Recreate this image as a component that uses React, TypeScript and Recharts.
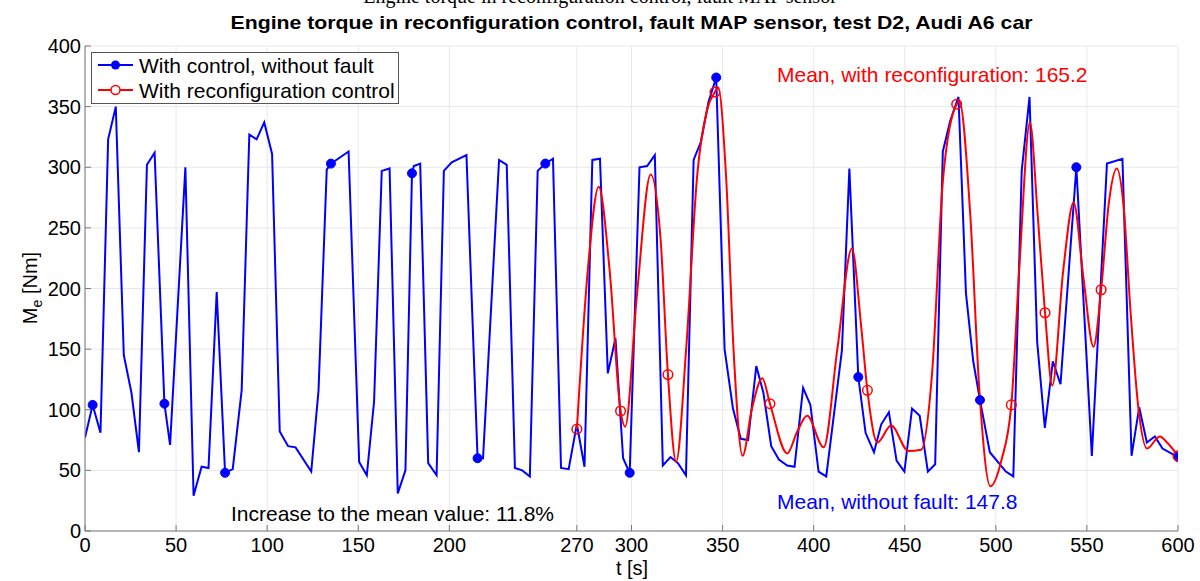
import React from "react";
import { LineChart, Line, XAxis, YAxis, CartesianGrid } from "recharts";

// axis ticks as drawn in the figure (note the 270 tick instead of 250)
const xTicks = [0, 50, 100, 150, 200, 270, 300, 350, 400, 450, 500, 550, 600];
const yTicks = [0, 50, 100, 150, 200, 250, 300, 350, 400];

// with control, without fault (blue)
const blueT = [
  0, 4.2, 8.5, 12.7, 16.9, 21.3, 25.5, 29.6, 34, 38.2, 43.6, 46.7, 55.1, 59.6, 64, 67.8, 72.3, 76.9, 81.1, 86,
  90.2, 94.2, 98.4, 102.7, 106.9, 111.5, 115.6, 124.2, 128.2, 132.7, 135, 144.7, 150.5, 154.7, 158.7, 162.9,
  167.2, 171.7, 175.9, 179.5, 180.5, 184, 188.4, 193, 197, 201.3, 209.4, 215.5, 218.5, 227.3, 231.5, 236, 240,
  244.2, 248.5, 252.7, 256.9, 261.3, 265.5, 270, 274.2, 278.5, 282.7, 287, 291.2, 295.4, 299, 304.4, 308.6,
  312.8, 317.2, 321.4, 325.5, 329.9, 334.1, 338.1, 342.3, 346.5, 351.1, 355.7, 360, 364, 368.5, 372.4, 376.7,
  380.9, 385.5, 389.5, 394.2, 398.2, 402.7, 406.9, 415.5, 419.6, 424.5, 428.5, 433.1, 437.1, 441.3, 445.5,
  449.8, 454, 458.2, 462.7, 466.7, 470.9, 474.9, 479.5, 483.6, 487.6, 491.3, 496.7, 505.5, 509.6, 514.2, 518.5,
  522.7, 526.9, 531.3, 535.5, 544.2, 552.7, 561, 569.5, 574.5, 578.7, 582.9, 587.3, 591.5, 600,
];
const blueV = [
  77, 104, 81, 323, 350, 145, 114, 65, 302, 312, 105, 71, 300, 29, 53, 52, 197, 48, 51, 116,
  327, 323, 337, 311, 82, 70, 69, 49, 116, 298, 303, 313, 57, 46, 107, 297,
  299, 31, 50, 295, 301, 303, 56, 46, 297, 304, 310, 60, 60, 306, 302, 52, 50,
  45, 297, 303, 307, 52, 51, 88, 53, 306, 307, 130, 159, 60, 48, 300, 301,
  310, 54, 61, 56, 46, 306, 321, 354, 374, 150, 101, 76, 75, 136, 114, 70,
  59, 54, 53, 118, 104, 49, 45, 149, 299, 127, 81, 65, 88, 98, 58,
  49, 101, 95, 49, 55, 313, 338, 358, 196, 140, 108, 65, 49, 45, 297, 358,
  156, 85, 140, 121, 300, 62, 303, 307, 62, 102, 73, 78, 68, 61,
];
const blueMarkT = [4.2, 43.6, 76.9, 135, 179.5, 215.5, 252.7, 299, 346.5, 424.5, 491.3, 544.2, 600];

// with reconfiguration control (red)
const redT = [
  270, 276, 282, 288, 294, 296.5, 303, 310.5, 316, 320, 324.5, 330, 336, 342, 345.8, 347.5, 352, 356, 361,
  366, 371.8, 376, 385.5, 391, 396.4, 405.5, 413, 421, 426, 429.5, 435, 442.5, 452, 459, 465, 471, 478.5, 480,
  486, 491, 497, 503, 508.5, 513, 518.7, 523, 527, 531, 537, 542.7, 548, 553.6, 557.8, 562, 566.4, 570, 574,
  578, 583, 590, 594, 600,
];
const redV = [
  84, 215, 284, 215, 99, 86, 195, 294, 240, 129, 57, 150, 292, 350, 362, 366, 290, 150, 62,
  100, 126, 105, 64, 82, 95, 69, 150, 233, 170, 116, 73, 87, 66, 67, 130, 290, 352, 354,
  260, 115, 37, 58, 104, 220, 337, 260, 180, 120, 215, 271, 210, 152, 199, 270, 299, 270, 180,
  105, 68, 78, 73, 62,
];
const redMarkT = [270, 294, 320, 345.8, 376, 429.5, 478.5, 508.5, 527, 557.8, 600];

const blueData = blueT.map((t, i) => ({ t, v: blueV[i] }));
const redData = redT.map((t, i) => ({ t, v: redV[i] }));
const blueMarks = new Set(blueMarkT);
const redMarks = new Set(redMarkT);

const FONT = "'Liberation Sans', Arial, Helvetica, sans-serif";
const BLUE = "#0000ff";
const RED = "#ff0000";
const AXIS = "#7a7a7a";

const BlueDot = (p: any) =>
  blueMarks.has(p.payload.t) ? (
    <circle key={`b${p.index}`} cx={p.cx} cy={p.cy} r={4.5} fill={BLUE} stroke={BLUE} />
  ) : (
    <g key={`b${p.index}`} />
  );

const RedDot = (p: any) =>
  redMarks.has(p.payload.t) ? (
    <circle key={`r${p.index}`} cx={p.cx} cy={p.cy} r={4.8} fill="none" stroke={RED} strokeWidth={1.5} />
  ) : (
    <g key={`r${p.index}`} />
  );

const tickStyle = { fill: "#000", fontSize: 20, fontFamily: FONT };
const noLabel = () => <g />;

export default function App() {
  return (
    <div style={{ position: "absolute", left: 0, top: 0, width: 1200, height: 581, background: "#fff" }}>
      <LineChart width={1200} height={581} data={blueData} margin={{ top: 46, right: 22, bottom: 20, left: 0 }}>
        <CartesianGrid xAxisId="b" yAxisId="l" stroke="#e8e8e8" strokeWidth={1} />
        <XAxis
          xAxisId="b"
          dataKey="t"
          type="number"
          domain={[0, 600]}
          ticks={xTicks}
          interval={0}
          allowDataOverflow
          height={30}
          tickSize={-6}
          tickMargin={13}
          stroke={AXIS}
          tick={tickStyle}
        />
        <XAxis
          xAxisId="t"
          orientation="top"
          dataKey="t"
          type="number"
          domain={[0, 600]}
          ticks={xTicks}
          interval={0}
          allowDataOverflow
          height={0}
          tickSize={-6}
          stroke={AXIS}
          tick={noLabel}
        />
        <YAxis
          yAxisId="l"
          type="number"
          domain={[0, 400]}
          ticks={yTicks}
          interval={0}
          allowDataOverflow
          width={85}
          tickSize={-6}
          tickMargin={10}
          stroke={AXIS}
          tick={tickStyle}
        />
        <YAxis
          yAxisId="r"
          orientation="right"
          type="number"
          domain={[0, 400]}
          ticks={yTicks}
          interval={0}
          allowDataOverflow
          width={0}
          tickSize={-6}
          stroke={AXIS}
          tick={noLabel}
        />
        <Line
          xAxisId="b"
          yAxisId="l"
          data={blueData}
          dataKey="v"
          type="linear"
          stroke={BLUE}
          strokeWidth={2}
          dot={BlueDot}
          activeDot={false}
          isAnimationActive={false}
        />
        <Line
          xAxisId="t"
          yAxisId="r"
          data={redData}
          dataKey="v"
          type="monotone"
          stroke={RED}
          strokeWidth={2}
          dot={RedDot}
          activeDot={false}
          isAnimationActive={false}
        />
      </LineChart>

      <svg
        width={1200}
        height={581}
        style={{ position: "absolute", left: 0, top: 0, pointerEvents: "none" }}
        fontFamily={FONT}
      >
        <text x={600} y={3} textAnchor="middle" fontFamily="'Liberation Serif', 'Times New Roman', serif" fontSize={20}>
          Engine torque in reconfiguration control, fault MAP sensor
        </text>
        <text
          x={631.5}
          y={29}
          textAnchor="middle"
          fontSize={19}
          fontWeight="bold"
          textLength={802}
          lengthAdjust="spacingAndGlyphs"
        >
          Engine torque in reconfiguration control, fault MAP sensor, test D2, Audi A6 car
        </text>

        <text x={777} y={82} fontSize={21} fill={RED}>
          Mean, with reconfiguration: 165.2
        </text>
        <text x={777} y={509} fontSize={21} fill={BLUE}>
          Mean, without fault: 147.8
        </text>
        <text x={231} y={521} fontSize={21} fill="#000">
          Increase to the mean value: 11.8%
        </text>

        <text x={632} y={575} textAnchor="middle" fontSize={20}>
          t [s]
        </text>
        <text transform="translate(37 288) rotate(-90)" textAnchor="middle" fontSize={20}>
          <tspan>M</tspan>
          <tspan dy={5} fontSize={14}>e</tspan>
          <tspan dy={-5}> [Nm]</tspan>
        </text>

        <g>
          <rect x={91.5} y={52.5} width={307} height={51} fill="#fff" stroke="#555" strokeWidth={1} />
          <line x1={98} y1={65} x2={133} y2={65} stroke={BLUE} strokeWidth={2} />
          <circle cx={115.5} cy={65} r={4.5} fill={BLUE} />
          <text x={139} y={72.5} fontSize={21}>
            With control, without fault
          </text>
          <line x1={98} y1={90} x2={133} y2={90} stroke={RED} strokeWidth={2} />
          <circle cx={115.5} cy={90} r={4.5} fill="#fff" stroke={RED} strokeWidth={1.5} />
          <text x={139} y={97.5} fontSize={21}>
            With reconfiguration control
          </text>
        </g>
      </svg>
    </div>
  );
}
